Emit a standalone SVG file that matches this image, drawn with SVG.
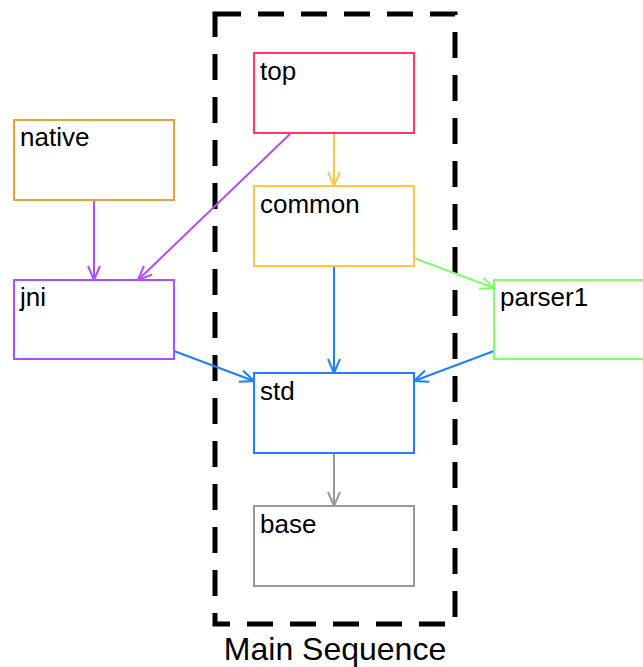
<svg xmlns="http://www.w3.org/2000/svg" width="643" height="667" viewBox="0 0 643 667">
  <style>
    .node rect { fill: #ffffff; stroke-width: 2; }
    .node text { font-family: "Liberation Sans", Arial, Helvetica, sans-serif; font-size: 26px; fill: #000000; }
    .edge { fill: none; stroke-width: 2; }
    .cluster { fill: none; stroke: #000000; stroke-width: 5; stroke-dasharray: 26 17; }
    .title { font-family: "Liberation Sans", Arial, Helvetica, sans-serif; font-size: 32px; fill: #000000; text-anchor: middle; }
  </style>
  <defs>
    <marker id="arr-yellow" markerUnits="userSpaceOnUse" viewBox="0 0 16 14" refX="15" refY="7" markerWidth="16" markerHeight="14" orient="auto">
      <path d="M1,1 L15,7 L1,13" fill="none" stroke="#ffc64c" stroke-width="2"/>
    </marker>
    <marker id="arr-purple" markerUnits="userSpaceOnUse" viewBox="0 0 16 14" refX="15" refY="7" markerWidth="16" markerHeight="14" orient="auto">
      <path d="M1,1 L15,7 L1,13" fill="none" stroke="#b04cff" stroke-width="2"/>
    </marker>
    <marker id="arr-blue" markerUnits="userSpaceOnUse" viewBox="0 0 16 14" refX="15" refY="7" markerWidth="16" markerHeight="14" orient="auto">
      <path d="M1,1 L15,7 L1,13" fill="none" stroke="#1f80ff" stroke-width="2"/>
    </marker>
    <marker id="arr-green" markerUnits="userSpaceOnUse" viewBox="0 0 16 14" refX="15" refY="7" markerWidth="16" markerHeight="14" orient="auto">
      <path d="M1,1 L15,7 L1,13" fill="none" stroke="#84ff6c" stroke-width="2"/>
    </marker>
    <marker id="arr-gray" markerUnits="userSpaceOnUse" viewBox="0 0 16 14" refX="15" refY="7" markerWidth="16" markerHeight="14" orient="auto">
      <path d="M1,1 L15,7 L1,13" fill="none" stroke="#999999" stroke-width="2"/>
    </marker>
  </defs>

  <!-- cluster: Main Sequence -->
  <g id="cluster-main">
    <rect class="cluster" x="215" y="14" width="240" height="610"/>
    <text class="title" x="335" y="660">Main Sequence</text>
  </g>

  <!-- connectors -->
  <g id="edges">
    <line class="edge" stroke="#ffc64c" x1="334" y1="133" x2="334" y2="186" marker-end="url(#arr-yellow)"/>
    <line class="edge" stroke="#b04cff" x1="291" y1="133" x2="138" y2="280" marker-end="url(#arr-purple)"/>
    <line class="edge" stroke="#b04cff" x1="94" y1="200" x2="94" y2="280" marker-end="url(#arr-purple)"/>
    <line class="edge" stroke="#1f80ff" x1="334" y1="266" x2="334" y2="373" marker-end="url(#arr-blue)"/>
    <line class="edge" stroke="#84ff6c" x1="414" y1="258" x2="494" y2="288" marker-end="url(#arr-green)"/>
    <line class="edge" stroke="#1f80ff" x1="174" y1="351" x2="254" y2="381" marker-end="url(#arr-blue)"/>
    <line class="edge" stroke="#1f80ff" x1="494" y1="351" x2="414" y2="381" marker-end="url(#arr-blue)"/>
    <line class="edge" stroke="#999999" x1="334" y1="453" x2="334" y2="506" marker-end="url(#arr-gray)"/>
  </g>

  <!-- nodes -->
  <g id="node-top" class="node">
    <rect x="254" y="53" width="160" height="80" stroke="#ff3868"/>
    <text x="260" y="80">top</text>
  </g>
  <g id="node-common" class="node">
    <rect x="254" y="186" width="160" height="80" stroke="#ffc64c"/>
    <text x="260" y="213">common</text>
  </g>
  <g id="node-native" class="node">
    <rect x="14" y="120" width="160" height="80" stroke="#eba040"/>
    <text x="20" y="146">native</text>
  </g>
  <g id="node-jni" class="node">
    <rect x="14" y="280" width="160" height="79" stroke="#b04cff"/>
    <text x="20" y="306">jni</text>
  </g>
  <g id="node-parser1" class="node">
    <rect x="494" y="280" width="160" height="79" stroke="#84ff6c"/>
    <text x="500" y="306">parser1</text>
  </g>
  <g id="node-std" class="node">
    <rect x="254" y="373" width="160" height="80" stroke="#1f80ff"/>
    <text x="260" y="400">std</text>
  </g>
  <g id="node-base" class="node">
    <rect x="254" y="506" width="160" height="80" stroke="#999999"/>
    <text x="260" y="533">base</text>
  </g>
</svg>
